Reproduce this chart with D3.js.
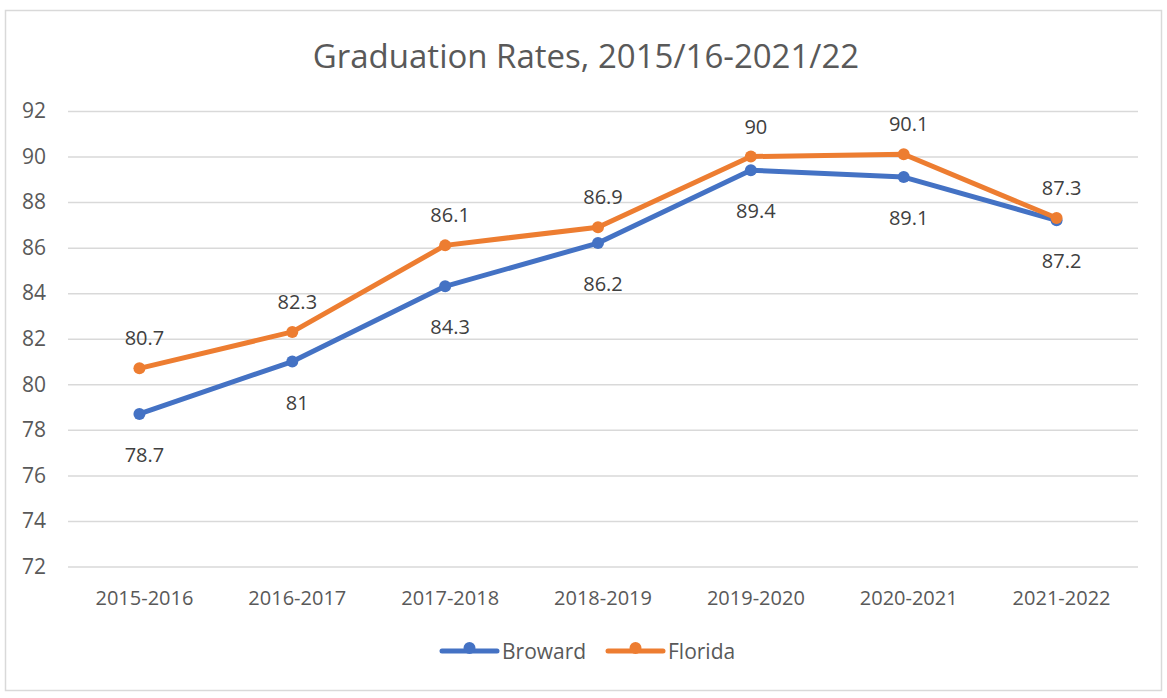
<!DOCTYPE html>
<html lang="en">
<head>
<meta charset="utf-8">
<title>Graduation Rates</title>
<script src="https://d3js.org/d3.v7.min.js"></script>
<style>
  body { margin: 0; background: #fff; }
  text { font-family: "Open Sans", sans-serif; fill: #595959; }
</style>
</head>
<body>
<svg id="chart" width="1167" height="698"></svg>
<script>
// data
var years = ["2015-2016", "2016-2017", "2017-2018", "2018-2019", "2019-2020", "2020-2021", "2021-2022"];
var broward = [78.7, 81, 84.3, 86.2, 89.4, 89.1, 87.2];
var florida = [80.7, 82.3, 86.1, 86.9, 90, 90.1, 87.3];
var yTicks = [72, 74, 76, 78, 80, 82, 84, 86, 88, 90, 92];

var series = [
  {name: "Broward", values: broward, color: "#4472C4", labelDy: 48},
  {name: "Florida", values: florida, color: "#ED7D31", labelDy: -23}
];

var svg = d3.select("#chart");

// outer border
svg.append("rect")
  .attr("x", 5.5).attr("y", 10.5)
  .attr("width", 1156).attr("height", 680)
  .attr("fill", "#fff").attr("stroke", "#d9d9d9").attr("stroke-width", 1.5);

svg.append("text")
  .attr("x", 586).attr("y", 68)
  .attr("text-anchor", "middle")
  .style("font-size", "33px")
  .text("Graduation Rates, 2015/16-2021/22");

var x = d3.scaleBand().domain(years).range([68, 1138]);
var y = d3.scaleLinear().domain([72, 92]).range([566.5, 111]);
var shift = -5; // markers sit a touch left of the label centres
function cx(d, i) { return x(years[i]) + x.bandwidth() / 2 + shift; }

// gridlines + y labels
var yAxis = d3.axisLeft(y).tickValues(yTicks).tickSize(-(1138 - 68)).tickPadding(22);
var gy = svg.append("g").attr("transform", "translate(68,0)").call(yAxis);
gy.select(".domain").remove();
gy.selectAll(".tick line").attr("stroke", "#d9d9d9").attr("stroke-width", 1.5);
gy.selectAll(".tick text").style("font-size", "21px").attr("fill", "#595959");

// x labels
var xAxis = d3.axisBottom(x).tickSize(0).tickPadding(24);
var gx = svg.append("g").attr("transform", "translate(0,566.5)").call(xAxis);
gx.select(".domain").remove();
gx.selectAll(".tick text").style("font-size", "20px").attr("fill", "#595959");

var line = d3.line().x(cx).y(function(d) { return y(d); });

series.forEach(function(s) {
  var g = svg.append("g");
  g.append("path")
    .datum(s.values)
    .attr("d", line)
    .attr("fill", "none")
    .attr("stroke", s.color)
    .attr("stroke-width", 5)
    .attr("stroke-linejoin", "round");
  g.selectAll("circle").data(s.values).enter().append("circle")
    .attr("cx", cx)
    .attr("cy", function(d) { return y(d); })
    .attr("r", 6)
    .attr("fill", s.color);
});

// data labels drawn after both lines
series.forEach(function(s) {
  svg.append("g").selectAll("text").data(s.values).enter().append("text")
    .attr("x", function(d, i) { return x(years[i]) + x.bandwidth() / 2; })
    .attr("y", function(d) { return y(d) + s.labelDy; })
    .attr("text-anchor", "middle")
    .style("font-size", "20px")
    .style("fill", "#404040")
    .text(function(d) { return d; });
});

// legend
var legend = svg.append("g");
var legendX = [442, 608];
series.forEach(function(s, i) {
  var lg = legend.append("g").attr("transform", "translate(" + legendX[i] + ",651)");
  lg.append("line").attr("x1", 0).attr("x2", 55).attr("y1", 0).attr("y2", 0)
    .attr("stroke", s.color).attr("stroke-width", 5).attr("stroke-linecap", "round");
  lg.append("circle").attr("cx", 27.5).attr("cy", -3).attr("r", 6).attr("fill", s.color);
  lg.append("text").attr("x", 60).attr("y", 7.5)
    .style("font-size", "21px").text(s.name);
});
</script>
</body>
</html>
